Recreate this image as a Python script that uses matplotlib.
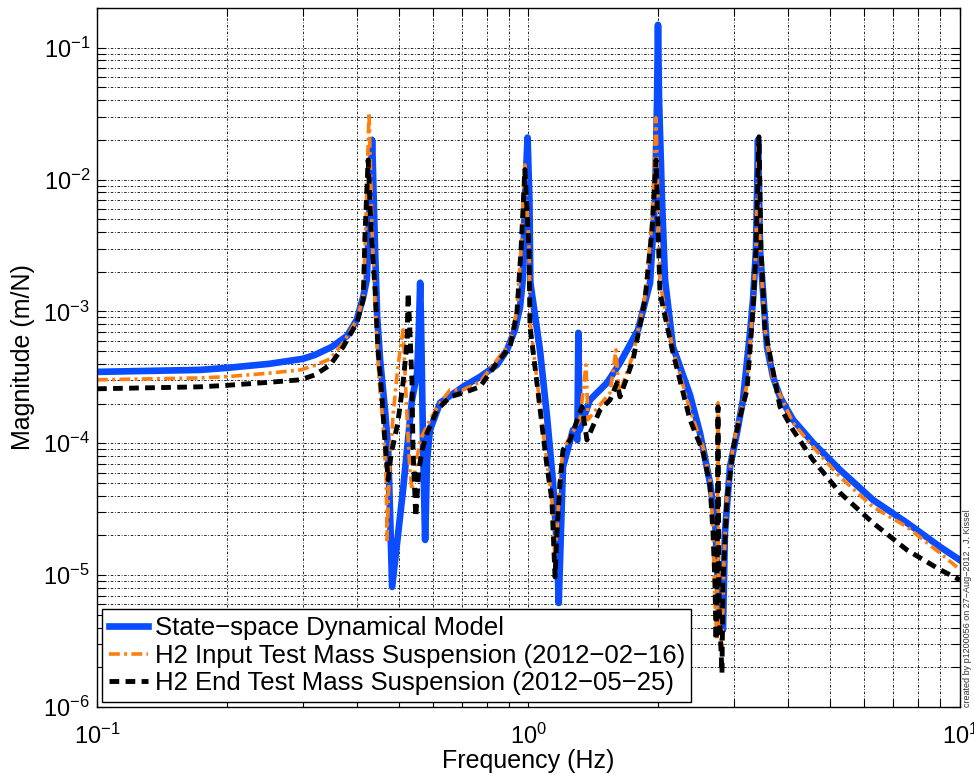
import matplotlib
matplotlib.use("Agg")
import matplotlib.pyplot as plt

plt.rcParams['font.family'] = ['Liberation Sans', 'DejaVu Sans']
plt.rcParams['mathtext.fontset'] = 'custom'
plt.rcParams['mathtext.rm'] = 'Liberation Sans'
plt.rcParams['mathtext.it'] = 'Liberation Sans:italic'
plt.rcParams['mathtext.bf'] = 'Liberation Sans:bold'

# State-space model (Hz, m/N)
model_freq = [0.100, 0.173, 0.200, 0.250, 0.300, 0.320, 0.350, 0.380,
              0.400, 0.414, 0.422,
              0.427, 0.432, 0.434, 0.436, 0.441, 0.446, 0.453, 0.465,
              0.473, 0.478, 0.483, 0.512, 0.537, 0.552, 0.557, 0.561,
              0.564, 0.570, 0.576, 0.582, 0.591, 0.624, 0.705, 0.772,
              0.845, 0.892, 0.930, 0.956, 0.970, 0.981, 0.995, 1.005,
              1.010, 1.063, 1.104, 1.140, 1.165, 1.175, 1.202, 1.268,
              1.298, 1.305, 1.313, 1.388, 1.520, 1.630, 1.794, 1.913,
              1.965, 1.986, 1.996, 2.007, 2.039, 2.072, 2.162, 2.367,
              2.497, 2.634, 2.705, 2.778, 2.823, 2.853, 2.931, 3.042,
              3.141, 3.261, 3.314, 3.367, 3.404, 3.440, 3.571, 3.687, 3.827,
              4.102, 4.563, 5.272, 6.287, 7.540, 8.990, 10.0]
model_mag = [3.48e-4, 3.60e-4, 3.73e-4, 4.00e-4, 4.37e-4, 4.68e-4, 5.38e-4, 6.53e-4,
             8.64e-4, 1.29e-3, 1.74e-3,
             4.95e-3, 1.19e-2, 2.00e-2, 1.19e-2, 2.93e-3, 9.10e-4, 4.29e-4, 1.79e-4,
             8.91e-5, 2.76e-5, 8.14e-6, 4.43e-5, 2.13e-4, 3.42e-4, 7.25e-4, 1.65e-3,
             7.25e-4, 8.91e-5, 1.85e-5, 7.48e-5, 1.26e-4, 2.03e-4, 2.68e-4, 3.19e-4,
             3.93e-4, 5.11e-4, 7.25e-4, 1.08e-3, 1.74e-3, 7.00e-3, 2.08e-2, 7.00e-3,
             1.65e-3, 5.11e-4, 1.59e-4, 5.01e-5, 1.55e-5, 6.15e-6, 6.62e-5, 1.26e-4,
             1.06e-4, 6.88e-4, 1.26e-4, 2.13e-4, 2.87e-4, 4.07e-4, 7.25e-4, 1.65e-3,
             7.00e-3, 4.03e-2, 1.49e-1, 4.03e-2, 7.00e-3, 1.74e-3, 5.38e-4, 2.33e-4,
             1.20e-4, 5.01e-5, 2.76e-5, 3.84e-6, 3.84e-6, 2.09e-5, 6.62e-5, 1.20e-4,
             2.13e-4, 6.88e-4, 1.23e-3, 2.93e-3, 2.00e-2, 2.93e-3, 5.38e-4, 3.20e-4, 2.25e-4,
             1.51e-4, 1.01e-4, 6.28e-5, 3.72e-5, 2.49e-5, 1.64e-5, 1.30e-5]

# H2 ITM measurement
itm_freq = [0.100, 0.173, 0.200, 0.250, 0.296, 0.320, 0.347, 0.372,
            0.400, 0.414, 0.420,
            0.427, 0.434, 0.439, 0.446, 0.453, 0.460, 0.468, 0.470,
            0.475, 0.485, 0.498, 0.512, 0.523, 0.531, 0.537, 0.546,
            0.561, 0.591, 0.624, 0.658, 0.705, 0.772, 0.845, 0.906,
            0.940, 0.961, 0.981, 1.003, 1.008, 1.046, 1.080, 1.104,
            1.133, 1.152, 1.164, 1.183, 1.202, 1.248, 1.316, 1.359,
            1.374, 1.465, 1.545, 1.595, 1.621, 1.747, 1.862, 1.933,
            1.975, 2.017, 2.162, 2.367, 2.538, 2.634, 2.677, 2.705,
            2.735, 2.749, 2.764, 2.808, 2.838, 2.884, 2.978, 3.091,
            3.209, 3.261, 3.314, 3.367, 3.404, 3.440, 3.533, 3.687,
            4.102, 4.563, 5.272, 6.287, 7.540, 8.990, 10.0]
itm_mag = [3.03e-4, 3.13e-4, 3.20e-4, 3.40e-4, 3.60e-4, 3.90e-4, 4.37e-4, 5.78e-4,
           8.64e-4, 1.29e-3, 4.95e-3,
           3.21e-2, 4.16e-3, 1.65e-3, 5.11e-4, 2.41e-4, 1.43e-4, 5.28e-5, 1.85e-5,
           5.28e-5, 1.59e-4, 3.80e-4, 7.25e-4, 1.59e-4, 6.28e-5, 4.43e-5, 6.28e-5,
           1.06e-4, 1.51e-4, 2.03e-4, 2.54e-4, 2.54e-4, 2.92e-4, 4.29e-4, 5.78e-4,
           1.03e-3, 2.93e-3, 1.29e-2, 2.93e-3, 8.64e-4, 3.03e-4, 1.26e-4, 7.10e-5,
           3.72e-5, 1.30e-5, 2.20e-5, 5.28e-5, 8.91e-5, 1.12e-4, 1.51e-4, 3.93e-4,
           1.51e-4, 1.96e-4, 2.41e-4, 5.11e-4, 2.33e-4, 4.68e-4, 1.29e-3, 4.95e-3,
           2.94e-2, 1.65e-3, 5.11e-4, 1.79e-4, 9.39e-5, 5.28e-5, 2.20e-5, 6.15e-6,
           3.22e-6, 2.03e-4, 4.57e-6, 2.71e-6, 1.30e-5, 4.06e-5, 9.39e-5, 1.70e-4,
           2.77e-4, 5.58e-4, 1.12e-3, 2.93e-3, 1.77e-2, 2.93e-3, 7.25e-4, 3.03e-4,
           1.43e-4, 9.39e-5, 5.56e-5, 3.29e-5, 2.32e-5, 1.47e-5, 1.10e-5]

# H2 ETM measurement
etm_freq = [0.100, 0.173, 0.200, 0.250, 0.296, 0.320, 0.347, 0.372,
            0.400, 0.414, 0.418,
            0.425, 0.432, 0.441, 0.448, 0.458, 0.465, 0.473, 0.480,
            0.498, 0.512, 0.523, 0.526, 0.531, 0.537, 0.540, 0.548,
            0.557, 0.567, 0.582, 0.614, 0.658, 0.705, 0.772, 0.845,
            0.906, 0.940, 0.961, 0.981, 1.003, 1.008, 1.046, 1.080,
            1.104, 1.133, 1.152, 1.164, 1.183, 1.202, 1.248, 1.330,
            1.366, 1.465, 1.545, 1.604, 1.630, 1.747, 1.862, 1.933,
            1.975, 2.017, 2.162, 2.367, 2.538, 2.634, 2.677, 2.705,
            2.720, 2.735, 2.749, 2.764, 2.808, 2.823, 2.884, 2.978,
            3.091, 3.209, 3.261, 3.314, 3.367, 3.421, 3.458, 3.533,
            3.827, 4.102, 4.563, 4.918, 5.272, 6.287, 7.540, 8.990, 10.0]
etm_mag = [2.59e-4, 2.68e-4, 2.75e-4, 2.90e-4, 3.03e-4, 3.30e-4, 3.93e-4, 5.38e-4,
           8.19e-4, 1.23e-3, 3.95e-3,
           1.41e-2, 3.95e-3, 1.46e-3, 5.11e-4, 2.13e-4, 1.01e-4, 5.28e-5, 8.17e-5,
           1.43e-4, 2.87e-4, 5.78e-4, 1.38e-3, 7.25e-4, 2.87e-4, 8.91e-5, 2.76e-5,
           6.28e-5, 8.91e-5, 1.20e-4, 1.79e-4, 2.25e-4, 2.41e-4, 2.68e-4, 4.07e-4,
           5.38e-4, 9.76e-4, 2.93e-3, 1.19e-2, 2.93e-3, 7.64e-4, 2.87e-4, 1.20e-4,
           6.62e-5, 3.72e-5, 9.70e-6, 2.09e-5, 5.01e-5, 8.91e-5, 1.06e-4, 1.89e-4,
           1.06e-4, 1.79e-4, 2.13e-4, 2.87e-4, 2.25e-4, 4.29e-4, 1.23e-3, 4.16e-3,
           1.41e-2, 1.38e-3, 4.85e-4, 1.51e-4, 8.60e-5, 4.83e-5, 2.09e-5, 8.72e-6,
           3.22e-6, 6.15e-6, 1.89e-4, 6.15e-6, 1.81e-6, 8.72e-6, 3.72e-5, 8.91e-5,
           1.59e-4, 2.54e-4, 5.11e-4, 1.03e-3, 2.93e-3, 2.11e-2, 2.93e-3, 7.25e-4,
           1.89e-4, 1.26e-4, 7.48e-5, 5.56e-5, 4.21e-5, 2.49e-5, 1.55e-5, 1.10e-5, 9.20e-6]

labels = ['State\u2212space Dynamical Model',
          'H2 Input Test Mass Suspension (2012\u221202\u221216)',
          'H2 End Test Mass Suspension (2012\u221205\u221225)']

fig = plt.figure(figsize=(9.74, 7.76), dpi=100)
ax = fig.add_axes([0.0996, 0.0889, 0.886, 0.9008])

ax.loglog(model_freq, model_mag, color='#0a4cff', lw=4.8,
          solid_joinstyle='round', label=labels[0])
ax.loglog(itm_freq, itm_mag, color='#ff7f0e', lw=2.6, ls=(0, (3, 1.2, 0.8, 1.2)),
          dash_joinstyle='round', label=labels[1])
ax.loglog(etm_freq, etm_mag, color='k', lw=3.5, ls=(0, (2, 1.3)),
          dash_joinstyle='round', label=labels[2])

ax.set_xlim(0.1, 10)
ax.set_ylim(1e-6, 0.2)

ax.set_axisbelow(True)
ax.grid(True, which='both', color='k', ls=(0, (3, 2, 1, 2)), lw=0.6)
ax.tick_params(which='both', direction='in', top=True, right=True,
               length=6, width=0.8, labelsize=17)
ax.tick_params(axis='x', which='both', pad=12)
ax.tick_params(axis='y', which='both', pad=5)
for s in ax.spines.values():
    s.set_linewidth(1.0)

ax.set_xlabel('Frequency (Hz)', fontsize=18, labelpad=0)
ax.set_ylabel('Magnitude (m/N)', fontsize=18, labelpad=6)

leg = ax.legend(loc='lower left', fontsize=18.5, fancybox=False, edgecolor='k',
                framealpha=1, borderaxespad=0.2, handlelength=1.55,
                handletextpad=0.25, labelspacing=0.15, borderpad=0.25)
leg.get_frame().set_linewidth(1.0)

fig.text(0.9935, 0.089, 'created by p1200056 on 27\u2212Aug\u22122012 , J. Kissel',
         rotation=90, fontsize=6.5, ha='center', va='bottom', color='#333333')

fig.savefig('out.png', dpi=100)
